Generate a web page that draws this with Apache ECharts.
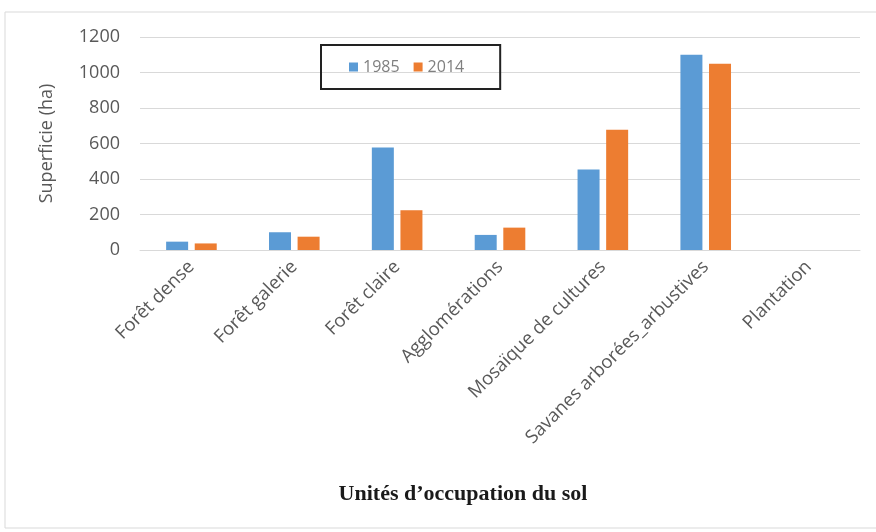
<!DOCTYPE html>
<html lang="fr">
<head>
    <meta charset="UTF-8">
    <title>Unités d'occupation du sol</title>
    <script src="https://cdn.jsdelivr.net/npm/echarts@6/dist/echarts.min.js"></script>
    <style>
        html, body { margin: 0; padding: 0; background: #fff; }
        #main { width: 876px; height: 532px; }
    </style>
</head>
<body>
<div id="main"></div>
<script>
    // données
    var categories = ['Forêt dense', 'Forêt galerie', 'Forêt claire', 'Agglomérations',
        'Mosaïque de cultures', 'Savanes arborées_arbustives', 'Plantation'];
    var values1985 = [47, 100, 577, 85, 453, 1100, 0];
    var values2014 = [37, 75, 224, 126, 678, 1050, 0];
    var yTicks = { min: 0, max: 1200, interval: 200 };

    var myChart = echarts.init(document.getElementById('main'));

    var option = {
        backgroundColor: '#fff',
        animation: false,
        graphic: [{
            type: 'rect',
            shape: { x: 5, y: 12, width: 880, height: 516 },
            style: { fill: 'none', stroke: '#d9d9d9', lineWidth: 1 },
            silent: true
        }],
        title: {
            text: 'Unités d\u2019occupation du sol',
            left: 458,
            top: 478,
            textAlign: 'center',
            textStyle: {
                fontFamily: 'Liberation Serif',
                fontWeight: 'bold',
                fontSize: 22,
                color: '#1a1a1a'
            }
        },
        legend: {
            data: ['1985', '2014'],
            left: 321,
            top: 45,
            orient: 'horizontal',
            itemWidth: 9,
            itemHeight: 9,
            itemGap: 14,
            icon: 'rect',
            padding: [14, 36, 14, 28],
            borderColor: '#222',
            borderWidth: 2,
            textStyle: {
                fontFamily: 'Open Sans',
                fontSize: 16,
                color: '#7f7f7f'
            }
        },
        grid: {
            left: 140,
            right: 16,
            top: 37,
            bottom: 282,
            containLabel: false
        },
        xAxis: {
            type: 'category',
            data: categories,
            axisLine: { show: true, lineStyle: { color: '#d9d9d9', width: 1 } },
            axisTick: { show: false },
            axisLabel: {
                interval: 0,
                rotate: 45,
                margin: 14,
                fontFamily: 'Open Sans',
                fontSize: 18.5,
                color: '#595959'
            }
        },
        yAxis: {
            type: 'value',
            min: yTicks.min,
            max: yTicks.max,
            interval: yTicks.interval,
            name: 'Superficie (ha)',
            nameLocation: 'middle',
            nameGap: 84,
            nameTextStyle: {
                fontFamily: 'Open Sans',
                fontSize: 18,
                color: '#595959'
            },
            axisLine: { show: false },
            axisTick: { show: false },
            axisLabel: {
                margin: 20,
                fontFamily: 'Open Sans',
                fontSize: 18,
                color: '#595959',
                formatter: function (v) { return String(v); }
            },
            splitLine: { lineStyle: { color: '#d9d9d9', width: 1 } }
        },
        series: [{
            name: '1985',
            type: 'bar',
            data: values1985,
            barWidth: 22,
            barGap: '30%',
            itemStyle: { color: '#5b9bd5' }
        }, {
            name: '2014',
            type: 'bar',
            data: values2014,
            barWidth: 22,
            itemStyle: { color: '#ed7d31' }
        }]
    };

    myChart.setOption(option);
</script>
</body>
</html>
